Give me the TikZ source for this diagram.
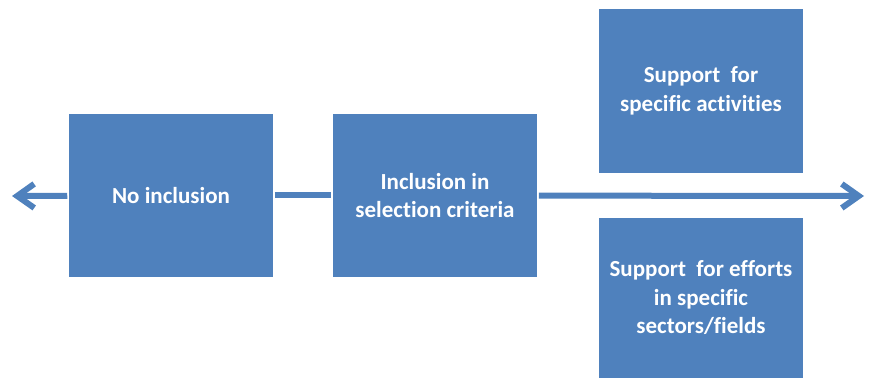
\documentclass[tikz,border=0pt]{standalone}
\usepackage{fontspec}
\setmainfont[Ligatures=NoCommon]{Carlito}
\usetikzlibrary{arrows.meta,positioning}
\definecolor{boxblue}{RGB}{79,129,189}

\begin{document}
\begin{tikzpicture}[
  x=1pt, y=-1pt,
  every node/.style={font=\bfseries\fontsize{23}{28.5}\selectfont},
  blk/.style={rectangle, fill=boxblue, draw=white, line width=1.5pt,
              minimum width=206pt, minimum height=165pt, inner sep=0pt,
              text=white, align=center},
  arc/.style={line width=6pt, boxblue},
  tip/.style={arc, -{Straight Barb[length=17pt, width=24pt]}},
]
\useasboundingbox (0,0) rectangle (873,379);

\node[blk] (noinc) at (171,195.5) {No inclusion};
\node[blk] (incl)  at (435,195.5) {Inclusion in\\selection criteria};
\node[blk] (act)   at (701,91)  {Support~ for\\specific activities};
\node[blk, minimum height=162pt] (sect) at (701,298)
  {Support~ for efforts\\in specific\\sectors/fields};

\coordinate (lft) at (12,196);
\coordinate (rgt) at (864,196);

\draw[tip] (noinc) -- (lft);
\draw[arc] (noinc) -- (incl);
\draw[tip] (incl) -- (rgt);
\end{tikzpicture}
\end{document}
